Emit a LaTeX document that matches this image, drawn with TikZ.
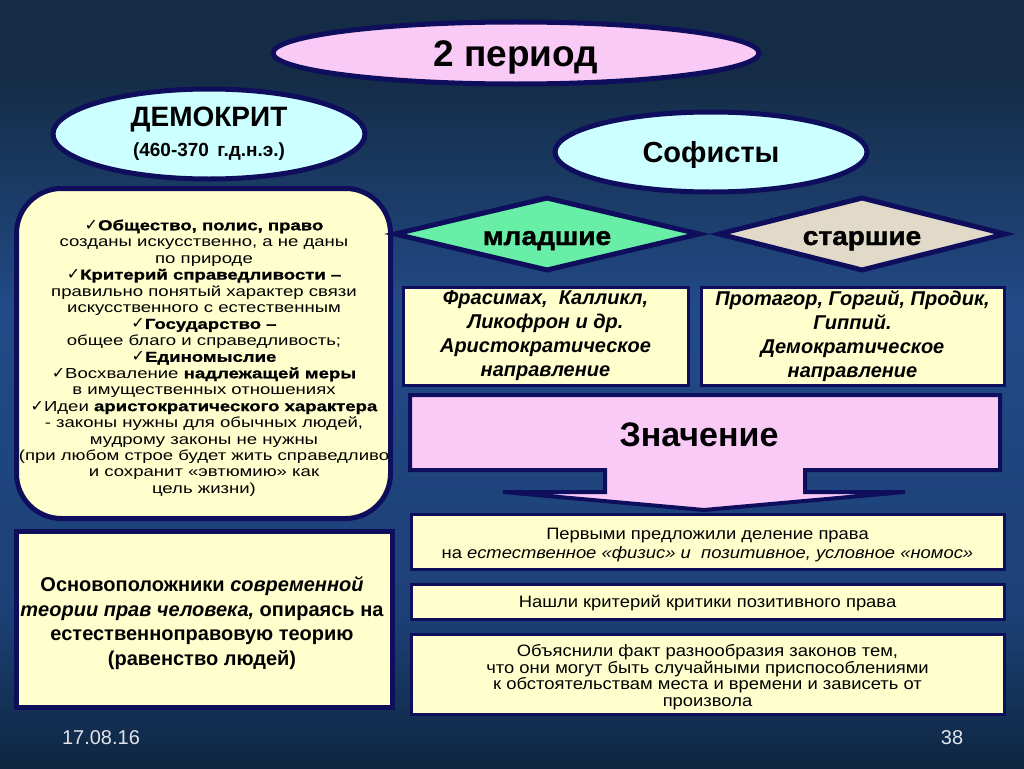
\documentclass[tikz,border=0pt]{standalone}
\usepackage{fontspec}
\setmainfont{Liberation Sans}
\newfontfamily\widef[FakeStretch=1.28, BoldFeatures={FakeBold=1.2}]{Liberation Sans}
\newfontfamily\medf[FakeStretch=1.115]{Liberation Sans}
\newfontfamily\heavyf[FakeStretch=1.08, BoldFeatures={FakeBold=1.4}]{Liberation Sans}
\newfontfamily\symf{DejaVu Sans}
\usetikzlibrary{shapes.geometric}
\definecolor{navy}{RGB}{14,14,92}
\definecolor{pinkc}{RGB}{250,202,246}
\definecolor{cyanc}{RGB}{204,255,255}
\definecolor{yelc}{RGB}{255,255,206}
\definecolor{greenc}{RGB}{104,238,166}
\definecolor{beigec}{RGB}{226,218,200}
\definecolor{bgA}{RGB}{20,44,70}
\definecolor{bgB}{RGB}{34,74,134}
\definecolor{bgC}{RGB}{28,64,118}
\definecolor{bgD}{RGB}{14,38,64}
\definecolor{foot}{RGB}{225,228,236}
\pgfdeclareverticalshading{bgsh}{100bp}{color(0bp)=(bgD); color(25bp)=(bgD); color(35bp)=(bgC); color(55bp)=(bgB); color(70bp)=(bgA); color(75bp)=(bgA); color(100bp)=(bgA)}
\newcommand{\ck}{{\symf\fontsize{16}{12}\selectfont ✓}}
\tikzset{
  oval/.style={ellipse, draw=navy, line width=5pt, inner sep=0pt},
  yelbox/.style={draw=navy, line width=3pt, fill=yelc, inner sep=0pt, align=center},
  dia/.style={diamond, draw=navy, line width=5pt, inner sep=0pt, text height=22pt, text depth=0pt,
              font=\fontsize{26}{26}\selectfont\heavyf\bfseries},
}
\begin{document}
\begin{tikzpicture}[x=1pt,y=-1pt]
\useasboundingbox (0,0) rectangle (1024,768);
\fill[shading=bgsh] (0,0) rectangle (1024,768);

% top ellipse
\node[oval, fill=pinkc, minimum width=486, minimum height=62, text height=26.5pt, text depth=0pt,
      font=\fontsize{37}{37}\selectfont\bfseries] (period) at (516,53) {2 период};

% Democritus
\node[oval, fill=cyanc, minimum width=312, minimum height=90, align=center,
      font=\fontsize{19}{30}\selectfont\bfseries] (demo) at (209,134)
  {{\fontsize{28}{30}\selectfont ДЕМОКРИТ}\\(460-370 \,г.д.н.э.)};

% Sophists
\node[oval, fill=cyanc, minimum width=312, minimum height=80, text height=21.5pt, text depth=0pt,
      font=\fontsize{29}{29}\selectfont\bfseries] (soph) at (711,152) {Софисты};

% Democritus ideas
\node[draw=navy, line width=5pt, fill=yelc, rounded corners=45pt, minimum width=374, minimum height=330,
      inner sep=0pt] (ideas) at (203.5,353.5) {};
\node[align=center, inner sep=0pt, font=\widef\fontsize{14.5}{16.44}\selectfont] (ideastxt) at (204,358)
  {\ck\textbf{Общество, полис, право}\\
   созданы искусственно, а не даны\\
   по природе\\
   \ck\textbf{Критерий справедливости –}\\
   правильно понятый характер связи\\
   искусственного с естественным\\
   \ck\textbf{Государство –}\\
   общее благо и справедливость;\\
   \ck\textbf{Единомыслие}\\
   \ck Восхваление \textbf{надлежащей меры}\\
   в имущественных отношениях\\
   \ck Идеи \textbf{аристократического характера}\\
   - законы нужны для обычных людей,\\
   мудрому законы не нужны\\
   (при любом строе будет жить справедливо\\
   и сохранит «эвтюмию» как\\
   цель жизни)};

% diamonds
\node[dia, fill=greenc, minimum width=306, minimum height=74, aspect=4.1] (young) at (547,234) {младшие};
\node[dia, fill=beigec, minimum width=288, minimum height=74, aspect=3.9] (old) at (862,234) {старшие};

% names boxes
\node[yelbox, minimum width=285, minimum height=98, font=\fontsize{20}{24}\selectfont\bfseries\itshape] (ynames) at (545.5,336)
  {Фрасимах, \ Калликл,\\ Ликофрон и др.\\ Аристократическое\\ направление};
\node[yelbox, minimum width=303, minimum height=98, font=\fontsize{20}{24}\selectfont\bfseries\itshape] (onames) at (852.5,336)
  {Протагор, Горгий, Продик,\\ Гиппий.\\ Демократическое\\ направление};

% Значение arrow callout
\draw[navy, line width=4pt, fill=pinkc, line join=miter]
  (410,395) -- (1000,395) -- (1000,470) -- (805,470) -- (805,492) -- (905,492)
  -- (704,510) -- (503,492) -- (605,492) -- (605,470) -- (410,470) -- cycle;
\node[font=\fontsize{34}{34}\selectfont\bfseries, text height=24pt, text depth=0pt] (zn) at (699,434) {Значение};

% meaning boxes
\node[yelbox, minimum width=593, minimum height=55] (m1) at (707.5,541.5) {};
\node[align=center, font=\medf\fontsize{16.5}{19}\selectfont] (m1txt) at (707.5,545.5)
  {Первыми предложили деление права\\
   на \textit{естественное «физис» и \ позитивное, условное «номос»}};
\node[yelbox, minimum width=593, minimum height=35] (m2) at (707.5,601.5) {};
\node[font=\medf\fontsize{16.5}{16.5}\selectfont] (m2txt) at (707.5,603.5)
  {Нашли критерий критики позитивного права};
\node[yelbox, minimum width=593, minimum height=80] (m3) at (707.5,674) {};
\node[align=center, font=\medf\fontsize{16.5}{16.7}\selectfont] (m3txt) at (707.5,677)
  {Объяснили факт разнообразия законов тем,\\
   что они могут быть случайными приспособлениями\\
   к обстоятельствам места и времени и зависеть от\\
   произвола};

% founders box
\node[draw=navy, line width=5pt, fill=yelc, minimum width=376, minimum height=176, inner sep=0pt] (found) at (204,619) {};
\node[align=center, font=\fontsize{20}{24.5}\selectfont\bfseries] (foundtxt) at (202,623)
  {Основоположники \textit{современной}\\
   \textit{теории прав человека,} опираясь на\\
   естественноправовую теорию\\
   (равенство людей)};

% footer
\node[text=foot, font=\fontsize{20}{20}\selectfont] (date) at (101,738) {17.08.16};
\node[text=foot, font=\fontsize{20}{20}\selectfont] (page) at (952,738) {38};
\end{tikzpicture}
\end{document}
